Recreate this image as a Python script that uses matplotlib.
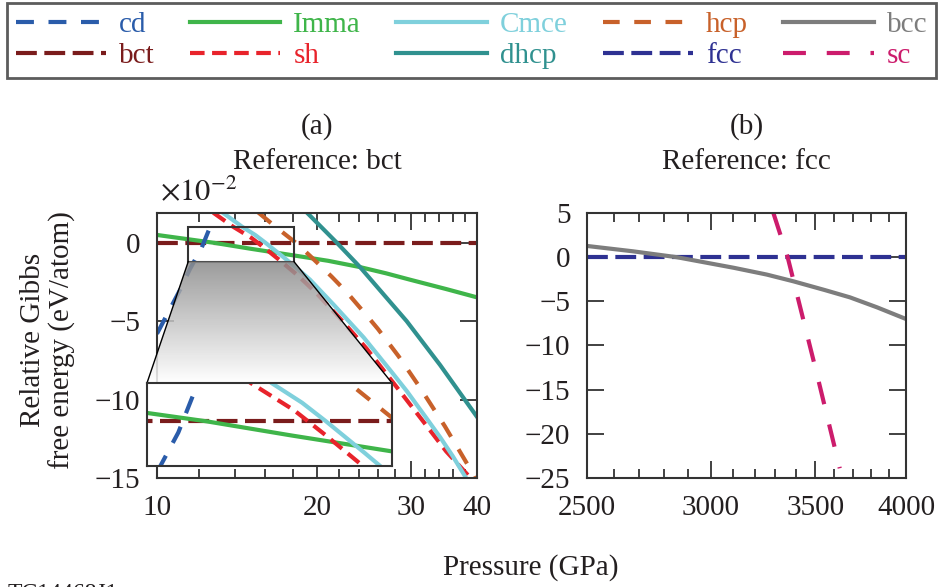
import numpy as np
import matplotlib
matplotlib.use("Agg")
import matplotlib.pyplot as plt
from matplotlib.lines import Line2D
from matplotlib.patches import Rectangle, Polygon
from matplotlib.colors import LinearSegmentedColormap
from matplotlib.ticker import FixedLocator, NullFormatter

plt.rcParams['font.family'] = ['Liberation Serif', 'DejaVu Serif']
plt.rcParams['mathtext.fontset'] = 'stix'
plt.rcParams['text.color'] = '#231f20'

# (a) reference bct, energies in 1e-2 eV/atom
cd_p = [10.0, 11.05, 11.54, 12.14, 12.6]
cd_e = [-5.8, -3.0, -1.66, -0.3, 1.05]

bct_p = [10, 40]
bct_e = [0, 0]

imma_p = [10, 12.8, 15, 18.2, 21, 24.1, 27, 29.9, 35, 40]
imma_e = [0.5, 0.0, -0.38, -0.82, -1.15, -1.55, -1.95, -2.35, -2.95, -3.48]

sh_p = [12.76, 13.9, 15.07, 16.0, 17.0, 18.5, 20.0, 22.0, 24.8, 27.8, 31.7, 35.0, 38.9]
sh_e = [1.92, 1.03, 0.3, -0.38, -1.1, -2.15, -3.25, -4.75, -6.75, -8.9, -11.4, -13.3, -15.0]

cmce_p = [13.2, 14.45, 15.3, 16.0, 17.2, 18.3, 19.4, 21.5, 24.5, 27.5, 29.5, 32.0, 34.1, 36.0, 38.0]
cmce_e = [2.0, 1.03, 0.5, 0.0, -0.85, -1.6, -2.35, -3.95, -6.05, -8.15, -9.45, -11.1, -12.4, -13.6, -14.9]

hcp_p = [15.5, 16.67, 18.33, 19.5, 21.3, 22.75, 24.47, 26.05, 28.5, 31.2, 34.8, 38.8, 40]
hcp_e = [1.94, 1.05, -0.05, -0.9, -2.15, -3.15, -4.4, -5.5, -7.25, -9.2, -11.7, -14.4, -15.3]

dhcp_p = [19.1, 19.4, 21.8, 24.1, 29.5, 34.1, 40]
dhcp_e = [1.96, 1.73, 0.0, -1.55, -5.0, -7.8, -11.1]

# (b) reference fcc
fcc_p = [2500, 4000]
fcc_e = [0, 0]

bcc_p = [2500, 2676, 2853, 3103, 3258, 3388, 3550, 3683, 3833, 4000]
bcc_e = [1.27, 0.66, 0.0, -1.2, -1.97, -2.73, -3.73, -4.55, -5.68, -7.0]

sc_p = [3290, 3360, 3507, 3628]
sc_e = [5.0, 0.0, -13.15, -23.9]

# styles
sty = {
    'cd':   dict(color='#2a5caa', dashes=(4.3, 3.5)),
    'bct':  dict(color='#7a1c1c', dashes=(5, 1.8)),
    'Imma': dict(color='#3fb54a'),
    'sh':   dict(color='#e8232b', dashes=(3.5, 1.8)),
    'Cmce': dict(color='#7fd0dc'),
    'dhcp': dict(color='#30918f'),
    'hcp':  dict(color='#c8612a', dashes=(4, 3.5)),
    'fcc':  dict(color='#2e3192', dashes=(5, 1.8)),
    'bcc':  dict(color='#7d7d7d'),
    'sc':   dict(color='#cc1c6c', dashes=(5.5, 5)),
}
LW = 3
FS = 21
ink = '#333333'

left_curves = [('bct', bct_p, bct_e), ('Imma', imma_p, imma_e), ('cd', cd_p, cd_e),
               ('dhcp', dhcp_p, dhcp_e), ('hcp', hcp_p, hcp_e),
               ('sh', sh_p, sh_e), ('Cmce', cmce_p, cmce_e)]

fig = plt.figure(figsize=(9.43, 5.87), dpi=100)
W, H = 943, 587

ax_a = fig.add_axes([157/W, 1-478/H, 320/W, 265/H])
ax_b = fig.add_axes([587/W, 1-478/H, 319/W, 265/H])


def style_axes(ax):
    for s in ax.spines.values():
        s.set_linewidth(1.5)
        s.set_color(ink)
    ax.tick_params(which='both', direction='in', top=True, right=True,
                   colors=ink, labelcolor='#231f20', labelsize=FS, pad=12)
    ax.tick_params(which='major', length=12, width=1.3)
    ax.tick_params(which='minor', length=6.5, width=1.3)


for name, p, e in left_curves:
    ax_a.plot(p, e, lw=LW, **sty[name])
ax_a.set_xscale('log')
ax_a.set_xlim(10, 40)
ax_a.set_ylim(-15, 1.9)
ax_a.xaxis.set_major_locator(FixedLocator([10, 20, 30, 40]))
ax_a.set_xticklabels(['10', '20', '30', '40'])
ax_a.xaxis.set_minor_locator(FixedLocator([12, 14, 16, 18, 22, 24, 26, 28, 32, 34, 36, 38]))
ax_a.xaxis.set_minor_formatter(NullFormatter())
ax_a.set_yticks([0, -5, -10, -15])
style_axes(ax_a)
ax_a.set_title('(a)\nReference: bct', fontsize=FS, pad=32, linespacing=1.45)
ax_a.text(0.01, 1.05, r'$\times10^{-2}$', transform=ax_a.transAxes, ha='left',
          va='baseline', fontsize=FS + 1)

ax_b.plot(fcc_p, fcc_e, lw=LW, **sty['fcc'])
ax_b.plot(bcc_p, bcc_e, lw=LW, **sty['bcc'])
ax_b.plot(sc_p, sc_e, lw=LW, **sty['sc'])
ax_b.set_xscale('log')
ax_b.set_xlim(2500, 4000)
ax_b.set_ylim(-25, 5)
ax_b.xaxis.set_major_locator(FixedLocator([2500, 3000, 3500, 4000]))
ax_b.set_xticklabels(['2500', '3000', '3500', '4000'])
ax_b.xaxis.set_minor_locator(FixedLocator([v for v in range(2600, 4000, 100) if v % 500]))
ax_b.xaxis.set_minor_formatter(NullFormatter())
ax_b.set_yticks([5, 0, -5, -10, -15, -20, -25])
style_axes(ax_b)
ax_b.set_title('(b)\nReference: fcc', fontsize=FS, pad=32, linespacing=1.45)

# zoom box in (a)
zx0, zx1 = 11.45, 18.1
zy0, zy1 = -1.2, 1.03
ax_a.add_patch(Rectangle((zx0, zy0), zx1-zx0, zy1-zy0, fill=False, ec=ink, lw=1.5, zorder=5))

# inset
ax_in = fig.add_axes([147/W, 1-466/H, 245/W, 83/H])
for name, p, e in left_curves:
    ax_in.plot(p, e, lw=LW, **sty[name])
ax_in.set_xscale('log')
ax_in.set_xlim(zx0, zx1)
ax_in.set_ylim(zy0, zy1)
ax_in.set_xticks([])
ax_in.set_yticks([])
ax_in.minorticks_off()
for s in ax_in.spines.values():
    s.set_linewidth(1.5)
    s.set_color(ink)

# shaded connector between box and inset
bl = ax_a.transData.transform((zx0, zy0))
br = ax_a.transData.transform((zx1, zy0))
tl = ax_in.transAxes.transform((0, 1))
tr = ax_in.transAxes.transform((1, 1))
ov = fig.add_axes([0, 0, 1, 1], zorder=ax_a.get_zorder())
ov.axis('off')
ov.patch.set_visible(False)
cmap = LinearSegmentedColormap.from_list('g', ['#8a8a8a', '#ffffff'])
grad = np.linspace(0, 1, 200).reshape(-1, 1)
im = ov.imshow(grad, cmap=cmap, extent=(min(tl[0], bl[0]), max(tr[0], br[0]), tl[1], bl[1]),
               origin='upper', aspect='auto', alpha=0.85)
poly = Polygon([bl, br, tr, tl], closed=True, transform=ov.transData, fc='none', ec='none')
ov.add_patch(poly)
im.set_clip_path(poly)
ov.plot([bl[0], tl[0]], [bl[1], tl[1]], color='k', lw=1.0)
ov.plot([br[0], tr[0]], [br[1], tr[1]], color='k', lw=1.0)
ov.set_xlim(0, W)
ov.set_ylim(0, H)
ax_in.set_zorder(ov.get_zorder() + 1)

# legend
order = ['cd', 'bct', 'Imma', 'sh', 'Cmce', 'dhcp', 'hcp', 'fcc', 'bcc', 'sc']
handles = [Line2D([], [], lw=LW, **sty[n]) for n in order]
leg = fig.legend(handles, order, ncol=5, loc='upper center',
                 bbox_to_anchor=(471.5/W, 1-3/H),
                 fontsize=FS, labelcolor='linecolor', handlelength=3.1,
                 handletextpad=0.45, labelspacing=0.15, borderpad=0.3,
                 borderaxespad=0, fancybox=False, edgecolor=ink, columnspacing=1.2)
leg.get_frame().set_linewidth(2)

fig.text(48/W, 1-340/H, 'Relative Gibbs\nfree energy (eV/atom)', rotation=90,
         ha='center', va='center', fontsize=FS, linespacing=1.1)
fig.text(531/W, 1-568/H, 'Pressure (GPa)', ha='center', va='center', fontsize=FS)
fig.text(8/W, 4/H, 'TC14468J1', ha='left', va='top', fontsize=17)

fig.savefig('out.png', dpi=100)
